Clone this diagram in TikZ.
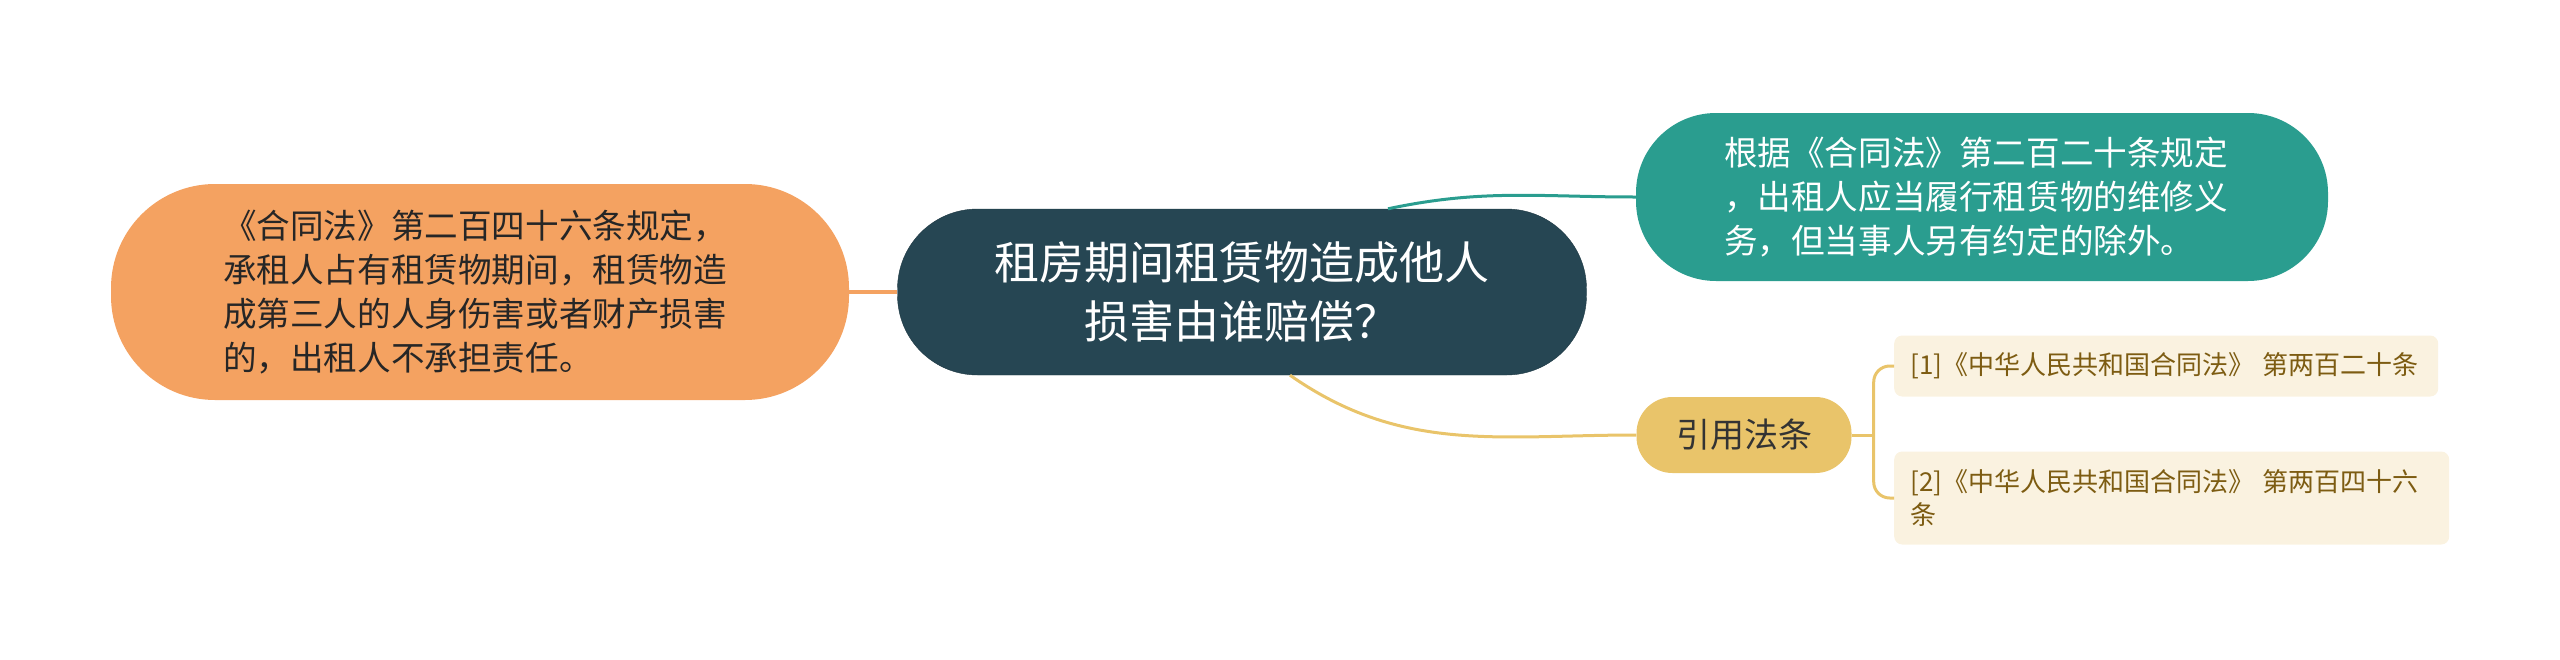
\documentclass[tikz,border=0pt]{standalone}
\usepackage{fontspec}
\setmainfont{Noto Sans CJK SC}
\usepackage{xcolor}
\usepackage{tikz}

\definecolor{topicblue}{HTML}{264653}
\definecolor{branchteal}{HTML}{2A9D8F}
\definecolor{branchorange}{HTML}{F4A261}
\definecolor{branchyellow}{HTML}{E9C46A}
\definecolor{leafcream}{HTML}{FAF2E0}
\definecolor{leafbrown}{HTML}{7D5C12}

\begin{document}
\begin{tikzpicture}[x=1pt, y=-1pt,
  topic/.style={fill=topicblue, draw=topicblue!80!black, text=white, align=center,
    minimum width=689pt, minimum height=166pt, rounded corners=80pt, inner sep=0pt,
    font=\fontsize{45}{59}\selectfont},
  branch/.style={align=left, inner sep=0pt, font=\fontsize{33.6}{44}\selectfont},
  leaf/.style={fill=leafcream, text=leafbrown, anchor=west, align=left, inner xsep=16pt,
    inner ysep=0pt, rounded corners=8pt, font=\fontsize{26}{33}\selectfont},
  link/.style={line width=3pt}]
  \useasboundingbox (0,0) rectangle (2560,659);

  % Central topic
  \node[topic] (ctr) at (1242,292) {租房期间租赁物造成他人\\损害由谁赔偿？};

  % Left branch
  \node[branch, fill=branchorange, text=black!85, minimum width=738pt, minimum height=216pt,
    rounded corners=104pt] (lft) at (480,292)
    {\hspace*{-10pt}《合同法》第二百四十六条规定，\\\hspace*{-10pt}承租人占有租赁物期间，租赁物造\\\hspace*{-10pt}成第三人的人身伤害或者财产损害\\\hspace*{-10pt}的，出租人不承担责任。};

  % Right branches
  \node[branch, fill=branchteal, text=white, minimum width=692pt, minimum height=168pt,
    rounded corners=80pt] (rgt) at (1982,197)
    {\hspace*{-12pt}根据《合同法》第二百二十条规定\\\hspace*{-12pt}，出租人应当履行租赁物的维修义\\\hspace*{-12pt}务，但当事人另有约定的除外。};
  \node[branch, fill=branchyellow, text=black!80, minimum width=215pt, minimum height=76pt,
    rounded corners=36pt, font=\fontsize{34}{40}\selectfont] (ref) at (1744,435) {引用法条};

  % Cited articles
  \node[leaf, text width=512pt, minimum height=61pt] (leaf1) at (1894,366)
    {[1]《中华人民共和国合同法》 第两百二十条};
  \node[leaf, text width=523pt, minimum height=93pt] (leaf2) at (1894,498)
    {[2]《中华人民共和国合同法》 第两百四十六\\条};

  % Connectors
  \draw[link, line width=4pt, branchorange] (ctr.west) -- (lft.east);
  \draw[link, branchteal] ([xshift=146pt]ctr.north) to[out=12, in=180] (rgt.west);
  \draw[link, branchyellow] ([xshift=48pt]ctr.south) to[out=-35, in=180] (ref.west);
  \draw[link, branchyellow] (ref.east) -- ++(22,0) coordinate (fork);
  \foreach \n in {leaf1, leaf2}
    \draw[link, branchyellow, rounded corners=16pt] (fork) |- (\n.west);
\end{tikzpicture}
\end{document}
